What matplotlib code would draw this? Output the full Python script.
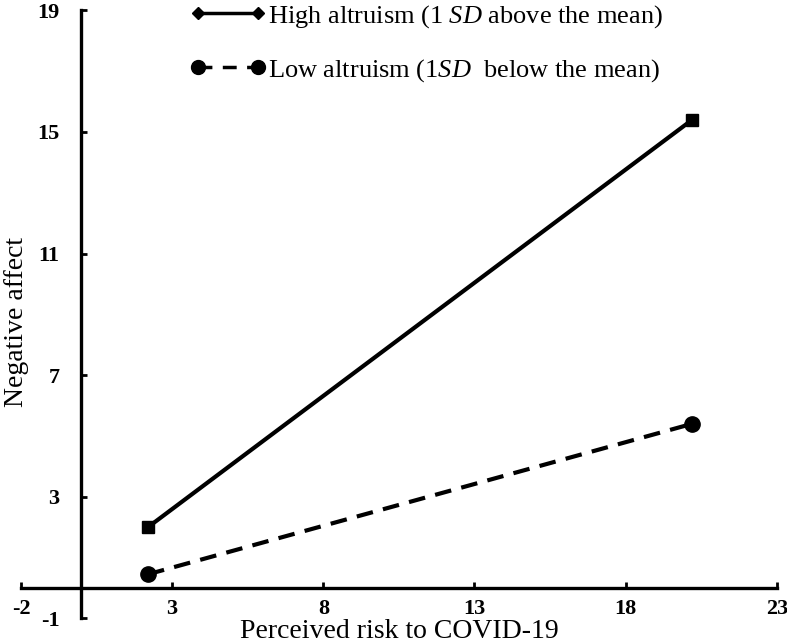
import matplotlib
matplotlib.use("Agg")
import matplotlib.pyplot as plt
from matplotlib.lines import Line2D

plt.rcParams['font.family'] = ['Liberation Serif', 'DejaVu Serif']
plt.rcParams['mathtext.fontset'] = 'custom'
plt.rcParams['mathtext.rm'] = 'Liberation Serif'
plt.rcParams['mathtext.it'] = 'Liberation Serif:italic'
plt.rcParams['axes.unicode_minus'] = False

# simple slopes data
risk = [2.2, 20.2]
high_altruism = [2.0, 15.4]
low_altruism = [0.45, 5.4]

x_ticks = [-2, 3, 8, 13, 18, 23]
y_ticks = [-1, 3, 7, 11, 15, 19]

high_label = r"High altruism (1 $SD$ above the mean)"
low_label = r"Low altruism (1$SD$  below the mean)"

fig = plt.figure(figsize=(7.87, 6.44), dpi=100)
ax = fig.add_axes([0.0267, 0.0398, 0.9603, 0.9441])

ax.plot(risk, high_altruism, color='black', lw=3, marker='s', ms=8,
        solid_capstyle='butt')
ax.plot(risk, low_altruism, color='black', lw=3, marker='o', ms=11,
        dashes=(4, 2.5))

ax.set_xlim(-2, 23)
ax.set_ylim(-1, 19)
ax.set_xticks(x_ticks)
ax.set_yticks(y_ticks)

# axes cross at the origin
ax.spines['left'].set_position(('data', 0))
ax.spines['bottom'].set_position(('data', 0))
ax.spines['top'].set_visible(False)
ax.spines['right'].set_visible(False)
for s in ['left', 'bottom']:
    ax.spines[s].set_linewidth(2.4)

ax.tick_params(direction='in', length=4, width=2, labelsize=16)
ax.tick_params(axis='x', pad=8)
ax.tick_params(axis='y', pad=16)
for lab in ax.get_xticklabels() + ax.get_yticklabels():
    lab.set_fontweight('bold')

fig.text(0.508, 0.0, "Perceived risk to COVID-19", ha='center', va='bottom',
         fontsize=20)
fig.text(0.005, 0.5, "Negative affect", rotation=90, ha='left', va='center',
         fontsize=20)

handles = [
    Line2D([], [], color='black', lw=2.5, marker='D', ms=6),
    Line2D([], [], color='black', lw=2.5, marker='o', ms=10, dashes=(4, 3)),
]
fig.legend(handles, [high_label, low_label], loc='upper left',
           bbox_to_anchor=(0.241, 0.995), frameon=False, fontsize=19,
           numpoints=2, handlelength=2.9, handletextpad=0.05,
           labelspacing=1.03, borderpad=0.0, borderaxespad=0.0)

fig.savefig("out.png", dpi=100)
